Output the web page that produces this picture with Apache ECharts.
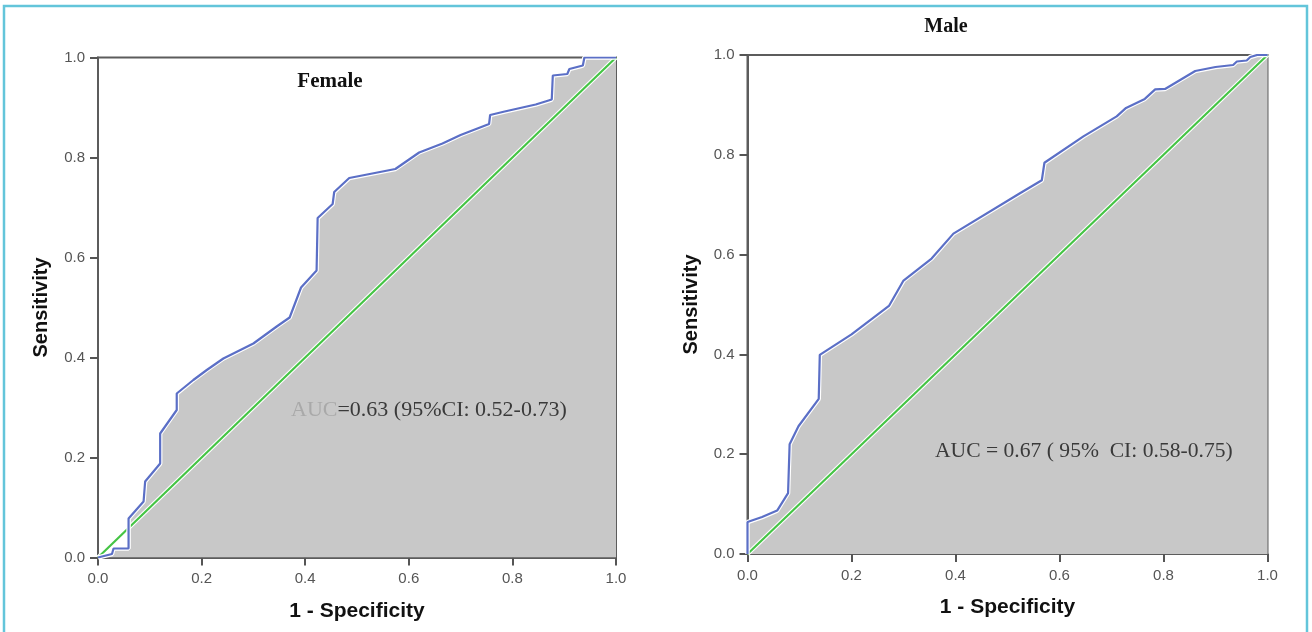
<!DOCTYPE html>
<html>
<head>
<meta charset="utf-8">
<script src="https://cdn.jsdelivr.net/npm/echarts@6/dist/echarts.min.js"></script>
<style>
html,body{margin:0;padding:0;background:#fff;}
#chart{width:1312px;height:632px;}
</style>
</head>
<body>
<div id="chart"></div>
<script>
// ---- Data ----
var tickValues = [0.0, 0.2, 0.4, 0.6, 0.8, 1.0];
var tickLabels = ['0.0', '0.2', '0.4', '0.6', '0.8', '1.0'];

var panelTitles = ['Female', 'Male'];
var xAxisTitle = '1 - Specificity';
var yAxisTitle = 'Sensitivity';

var femaleFPR = [0, 0.027, 0.030, 0.059, 0.059, 0.088, 0.091, 0.120, 0.120, 0.152, 0.152, 0.184, 0.210, 0.242, 0.300, 0.345, 0.370, 0.392, 0.422, 0.424, 0.453, 0.456, 0.485, 0.574, 0.620, 0.665, 0.700, 0.755, 0.757, 0.785, 0.845, 0.876, 0.878, 0.906, 0.910, 0.936, 0.939, 1.0];
var femaleTPR = [0, 0.007, 0.018, 0.018, 0.078, 0.112, 0.152, 0.188, 0.248, 0.295, 0.328, 0.355, 0.375, 0.398, 0.428, 0.462, 0.480, 0.540, 0.574, 0.679, 0.707, 0.731, 0.759, 0.777, 0.810, 0.828, 0.845, 0.867, 0.885, 0.892, 0.906, 0.916, 0.964, 0.967, 0.977, 0.984, 1.0, 1.0];

var maleFPR = [0, 0, 0.028, 0.057, 0.078, 0.081, 0.098, 0.137, 0.139, 0.200, 0.272, 0.300, 0.354, 0.396, 0.524, 0.566, 0.571, 0.646, 0.710, 0.728, 0.764, 0.784, 0.803, 0.861, 0.900, 0.934, 0.941, 0.960, 0.967, 0.980, 1.0];
var maleTPR = [0, 0.064, 0.074, 0.087, 0.122, 0.220, 0.256, 0.311, 0.399, 0.440, 0.497, 0.548, 0.592, 0.642, 0.723, 0.749, 0.784, 0.837, 0.877, 0.894, 0.912, 0.931, 0.932, 0.968, 0.976, 0.980, 0.987, 0.989, 0.996, 1.0, 1.0];

var refFPR = [0, 1];
var refTPR = [0, 1];

var aucTexts = [
  {lead: 'AUC', rest: '=0.63 (95%CI: 0.52-0.73)'},
  {lead: 'AUC', rest: ' = 0.67 ( 95%  CI: 0.58-0.75)'}
];

function pairs(xs, ys) { return xs.map(function (x, i) { return [x, ys[i]]; }); }

var grids = [
  {left: 98, top: 57.5, width: 518, height: 500},
  {left: 747.5, top: 55, width: 520, height: 499}
];
var yNameGap = [47, 46];
var xNameGap = [43, 43];

var chart = echarts.init(document.getElementById('chart'), null, {renderer: 'canvas'});

var xAxes = [], yAxes = [], series = [];
grids.forEach(function (g, i) {
  var axisCommon = {
    type: 'value', min: 0, max: 1, interval: 0.2, gridIndex: i,
    splitLine: {show: false},
    axisLine: {show: true, onZero: false, lineStyle: {color: '#5c5c5c', width: 2}},
    axisTick: {show: true, length: 8, lineStyle: {color: '#555', width: 2}},
    axisLabel: {color: '#555', fontSize: 15, fontFamily: 'Liberation Sans',
      formatter: function (v) { var k = tickValues.indexOf(Math.round(v * 10) / 10); return k >= 0 ? tickLabels[k] : ''; }},
    nameLocation: 'middle'
  };
  xAxes.push(Object.assign({}, axisCommon, {
    name: xAxisTitle, nameGap: xNameGap[i],
    nameTextStyle: {color: '#111', fontSize: 21, fontWeight: 'bold', fontFamily: 'Liberation Sans'},
    axisLabel: Object.assign({}, axisCommon.axisLabel, {margin: 14})
  }));
  yAxes.push(Object.assign({}, axisCommon, {
    name: yAxisTitle, nameGap: yNameGap[i],
    nameTextStyle: {color: '#111', fontSize: 20, fontWeight: 'bold', fontFamily: 'Liberation Sans'},
    axisLabel: Object.assign({}, axisCommon.axisLabel, {margin: 13})
  }));
});

var curves = [pairs(femaleFPR, femaleTPR), pairs(maleFPR, maleTPR)];
var refLine = pairs(refFPR, refTPR);

curves.forEach(function (c, i) {
  series.push({
    type: 'line', xAxisIndex: i, yAxisIndex: i, data: c, showSymbol: false, silent: true,
    lineStyle: {width: 0, opacity: 0}, areaStyle: {color: '#c8c8c8', opacity: 1}, z: 1
  });
  series.push({
    type: 'line', xAxisIndex: i, yAxisIndex: i, data: refLine, showSymbol: false, silent: true,
    lineStyle: {width: 4.5, color: '#ffffff'}, z: 2
  });
  series.push({
    type: 'line', xAxisIndex: i, yAxisIndex: i, data: refLine, showSymbol: false, silent: true,
    lineStyle: {width: 2.2, color: '#45c445'}, z: 3
  });
  series.push({
    type: 'line', xAxisIndex: i, yAxisIndex: i, data: c, showSymbol: false, silent: true,
    lineStyle: {width: 4.5, color: '#ffffff'}, z: 4
  });
  series.push({
    type: 'line', xAxisIndex: i, yAxisIndex: i, data: c, showSymbol: false, silent: true,
    lineStyle: {width: 2.2, color: '#5b6fc6'}, z: 5
  });
});

var option = {
  animation: false,
  backgroundColor: '#ffffff',
  textStyle: {fontFamily: 'Liberation Sans'},
  grid: grids.map(function (g) {
    return Object.assign({show: true, borderColor: '#5c5c5c', borderWidth: 2, backgroundColor: 'transparent', containLabel: false}, g);
  }),
  xAxis: xAxes,
  yAxis: yAxes,
  series: series,
  graphic: [
    {type: 'rect', shape: {x: 4, y: 6, width: 1303, height: 640}, style: {fill: 'none', stroke: '#63c5da', lineWidth: 2.5}, z: 100, silent: true},
    {type: 'text', x: 330, y: 82, style: {text: panelTitles[0], font: 'bold 21px "Liberation Serif"', fill: '#111', align: 'center', verticalAlign: 'middle'}, z: 50},
    {type: 'text', x: 946, y: 27, style: {text: panelTitles[1], font: 'bold 20px "Liberation Serif"', fill: '#111', align: 'center', verticalAlign: 'middle'}, z: 50},
    {type: 'text', x: 291, y: 410, style: {
      text: '{a|' + aucTexts[0].lead + '}{b|' + aucTexts[0].rest + '}',
      rich: {a: {font: '22px "Liberation Serif"', fill: '#a9a9a9'}, b: {font: '22px "Liberation Serif"', fill: '#3a3a3a'}},
      verticalAlign: 'middle'}, z: 50},
    {type: 'text', x: 935, y: 451, style: {
      text: '{a|' + aucTexts[1].lead + '}{b|' + aucTexts[1].rest + '}',
      rich: {a: {font: '21.6px "Liberation Serif"', fill: '#3a3a3a'}, b: {font: '21.6px "Liberation Serif"', fill: '#3a3a3a'}},
      verticalAlign: 'middle'}, z: 50}
  ]
};
chart.setOption(option);
</script>
</body>
</html>
